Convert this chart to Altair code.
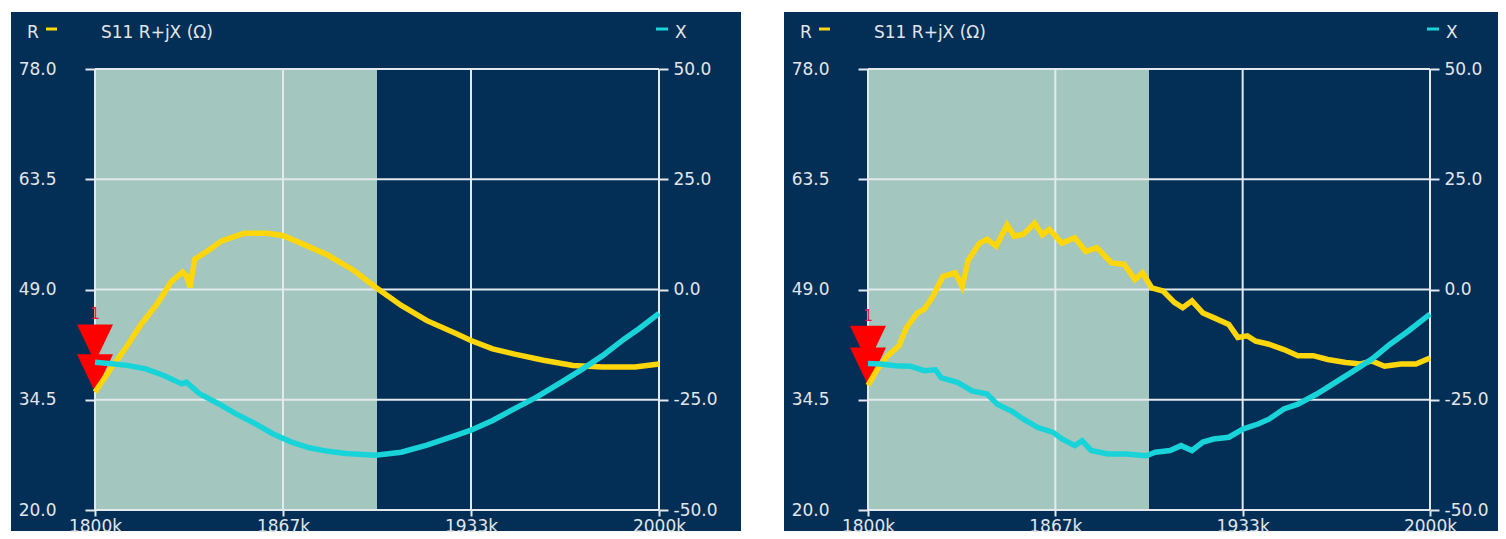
import altair as alt
import pandas as pd

# ---------------- data ----------------
FREQ_TICKS = [1800, 1866.6667, 1933.3333, 2000]
R_TICKS = [20.0, 34.5, 49.0, 63.5, 78.0]
X_TICKS = [-50.0, -25.0, 0.0, 25.0, 50.0]
SHADE_START = [1800]
SHADE_END = [1900]

# left panel (smooth sweep)
L_R_F = [1800, 1806, 1811.4, 1816.5, 1822, 1827, 1831, 1832.4, 1833.7, 1835.4, 1840, 1845, 1853,
         1861, 1866.5, 1873.6, 1882.7, 1891.8, 1899.5, 1908.6, 1917.7, 1928, 1933.3, 1941,
         1948.8, 1959, 1969.5, 1980, 1991.5, 2000]
L_R_V = [35.5, 38.8, 41.6, 44.5, 47.1, 50.0, 51.3, 50.8, 49.3, 53.0, 54.1, 55.4, 56.4,
         56.4, 56.1, 55.0, 53.5, 51.5, 49.3, 46.9, 44.9, 43.2, 42.3, 41.2,
         40.5, 39.7, 39.0, 38.8, 38.8, 39.2]
L_X_F = [1800, 1805, 1811.4, 1818, 1824.4, 1830.8, 1832.4, 1837, 1843.8, 1850, 1856.8, 1863,
         1869.7, 1876, 1882.7, 1889, 1899.5, 1908.6, 1917.7, 1928, 1933.3, 1941, 1948.8,
         1956.6, 1964.4, 1972, 1980, 1987.7, 1992.9, 2000]
L_X_V = [-16.5, -16.8, -17.2, -18.0, -19.5, -21.4, -21.0, -23.6, -25.9, -28.2, -30.4, -32.7,
         -34.6, -35.9, -36.7, -37.2, -37.6, -36.9, -35.3, -33.1, -31.9, -29.7, -27.0,
         -24.4, -21.4, -18.4, -15.0, -11.2, -8.9, -5.4]

# right panel (noisy sweep)
R_R_F = [1800, 1803.3, 1807, 1811, 1813.7, 1817.5, 1820, 1822.8, 1826.6, 1831, 1833.5, 1835.7,
         1839.7, 1842.4, 1845.6, 1849.5, 1852, 1855.4, 1859.3, 1862, 1864.5, 1869, 1873.6,
         1877.5, 1881.4, 1886.7, 1891.2, 1895, 1897.7, 1901, 1905, 1909, 1912, 1915.3,
         1919.2, 1923, 1928.4, 1931.6, 1935, 1938, 1942.7, 1948, 1953, 1958.4, 1963.6,
         1970, 1975.4, 1979.3, 1983.8, 1989.7, 1995, 2000]
R_R_V = [36.4, 38.5, 40.3, 41.6, 44.0, 45.9, 46.4, 47.9, 50.7, 51.2, 49.4, 52.9,
         55.1, 55.6, 54.7, 57.5, 56.0, 56.3, 57.7, 56.2, 56.9, 55.1, 55.8,
         54.0, 54.5, 52.5, 52.3, 50.3, 51.2, 49.2, 48.8, 47.3, 46.6, 47.5,
         45.9, 45.3, 44.4, 42.7, 42.9, 42.2, 41.8, 41.1, 40.3, 40.3, 39.8,
         39.4, 39.2, 39.6, 38.9, 39.2, 39.2, 40.0]
R_X_F = [1800, 1804.6, 1809.8, 1815, 1820, 1824, 1826, 1832, 1837, 1842.4, 1846, 1851.4,
         1855.3, 1860.5, 1865.9, 1869, 1873.6, 1876.2, 1879.4, 1885.3, 1891.8, 1899,
         1902.3, 1907.5, 1911.4, 1915.3, 1919.2, 1923, 1928.4, 1933.6, 1938.8, 1942.7,
         1948, 1953, 1959.7, 1966.2, 1972.7, 1979.3, 1985.8, 1992.3, 2000]
R_X_V = [-16.8, -16.9, -17.3, -17.4, -18.4, -18.2, -20.0, -21.1, -23.0, -23.7, -26.0, -27.7,
         -29.4, -31.3, -32.4, -33.9, -35.4, -34.3, -36.5, -37.3, -37.3, -37.7,
         -36.9, -36.5, -35.4, -36.5, -34.6, -33.9, -33.5, -31.6, -30.5, -29.4,
         -27.1, -26.0, -23.7, -21.1, -18.5, -15.8, -12.4, -9.4, -5.6]

# ---------------- style ----------------
NAVY = "#032E56"
SHADE = "#A3C6BE"
YELLOW = "#FFD60A"
CYAN = "#18D4D8"
GRID = "#E4E9EE"
TXT = "#E2E6EA"
FONT = "DejaVu Sans"
FS = 17

x_scale = alt.Scale(domain=[1800, 2000], nice=False, zero=False)
r_scale = alt.Scale(domain=[20, 78], nice=False, zero=False)
x2_scale = alt.Scale(domain=[-50, 50], nice=False, zero=False)

x_axis = alt.Axis(values=FREQ_TICKS, labelExpr="format(round(datum.value), 'd') + 'k'",
                  title=None, grid=False, domain=False, tickSize=6, tickWidth=2,
                  tickColor=GRID, labelPadding=2, labelFlush=False, zindex=1,
                  labelFont=FONT, labelFontSize=FS, labelColor=TXT)
r_axis = alt.Axis(values=R_TICKS, format=".1f", orient="left", title=None, grid=False,
                  domain=False, tickSize=10, tickWidth=2, tickColor=GRID, labelPadding=29,
                  zindex=1, labelFont=FONT, labelFontSize=FS, labelColor=TXT)
xr_axis = alt.Axis(values=X_TICKS,
                   labelExpr="(datum.value < 0 ? '-' : '') + format(abs(datum.value), '.1f')",
                   orient="right", title=None, grid=False,
                   domain=False, tickSize=9, tickWidth=2, tickColor=GRID, labelPadding=5,
                   labelAlign="left", zindex=1, labelFont=FONT, labelFontSize=FS,
                   labelColor=TXT)

TRI = "M-1,-2.1L1,-2.1L0,0Z"


def panel(rf, rv, xf, xv, width, bg_right):
    one = pd.DataFrame({"a": [0]})
    r_df = pd.DataFrame({"f": rf, "v": rv})
    x_df = pd.DataFrame({"f": xf, "v": xv})
    shade_df = pd.DataFrame({"s": SHADE_START, "e": SHADE_END})
    vgrid = pd.DataFrame({"f": FREQ_TICKS})
    hgrid = pd.DataFrame({"v": R_TICKS})
    r_mark = pd.DataFrame({"f": [rf[0]], "v": [rv[0]]})
    x_mark = pd.DataFrame({"f": [xf[0]], "v": [xv[0]], "t": ["1"]})

    bg = alt.Chart(one).mark_rect(color=NAVY).encode(
        x=alt.value(-84), x2=alt.value(width + bg_right),
        y=alt.value(-57), y2=alt.value(462))
    shade = alt.Chart(shade_df).mark_rect(color=SHADE).encode(
        x=alt.X("s:Q", scale=x_scale, axis=x_axis), x2="e:Q")
    vg = alt.Chart(vgrid).mark_rule(color=GRID, strokeWidth=2).encode(
        x=alt.X("f:Q", scale=x_scale, axis=x_axis))
    hg = alt.Chart(hgrid).mark_rule(color=GRID, strokeWidth=2).encode(
        y=alt.Y("v:Q", scale=r_scale, axis=r_axis))
    rmk = alt.Chart(r_mark).mark_point(shape=TRI, size=1296, filled=True, color="#FF0000",
                                       opacity=1).encode(
        x=alt.X("f:Q", scale=x_scale, axis=x_axis),
        y=alt.Y("v:Q", scale=r_scale, axis=r_axis))
    rline = alt.Chart(r_df).mark_line(color=YELLOW, strokeWidth=5.5).encode(
        x=alt.X("f:Q", scale=x_scale, axis=x_axis),
        y=alt.Y("v:Q", scale=r_scale, axis=r_axis))
    title = alt.Chart(one).mark_text(text="S11 R+jX (Ω)", align="left", baseline="middle",
                                     font=FONT, fontSize=FS, color=TXT).encode(
        x=alt.value(6), y=alt.value(-36))
    rlab = alt.Chart(one).mark_text(text="R", align="left", baseline="middle",
                                    font=FONT, fontSize=FS, color=TXT).encode(
        x=alt.value(-68), y=alt.value(-36))
    rdash = alt.Chart(one).mark_rule(color=YELLOW, strokeWidth=3).encode(
        x=alt.value(-49), x2=alt.value(-38), y=alt.value(-40))

    r_layer = alt.layer(bg, shade, vg, hg, rmk, rline, title, rlab, rdash)

    xmk = alt.Chart(x_mark).mark_point(shape=TRI, size=1296, filled=True, color="#FF0000",
                                       opacity=1).encode(
        x=alt.X("f:Q", scale=x_scale, axis=x_axis),
        y=alt.Y("v:Q", scale=x2_scale, axis=xr_axis))
    xnum = alt.Chart(x_mark).mark_text(font=FONT, fontSize=16, color="#E8184C",
                                       baseline="middle", dy=-48).encode(
        x=alt.X("f:Q", scale=x_scale, axis=x_axis),
        y=alt.Y("v:Q", scale=x2_scale, axis=xr_axis), text="t:N")
    xline = alt.Chart(x_df).mark_line(color=CYAN, strokeWidth=5.5).encode(
        x=alt.X("f:Q", scale=x_scale, axis=x_axis),
        y=alt.Y("v:Q", scale=x2_scale, axis=xr_axis))
    xlab = alt.Chart(one).mark_text(text="X", align="left", baseline="middle",
                                    font=FONT, fontSize=FS, color=TXT).encode(
        x=alt.value(width + 16), y=alt.value(-36))
    xdash = alt.Chart(one).mark_rule(color=CYAN, strokeWidth=3).encode(
        x=alt.value(width - 3), x2=alt.value(width + 9), y=alt.value(-40))

    x_layer = alt.layer(xmk, xnum, xline, xlab, xdash)

    return alt.layer(r_layer, x_layer).resolve_scale(y="independent").properties(
        width=width, height=441)


left = panel(L_R_F, L_R_V, L_X_F, L_X_V, 564, 82)
right = panel(R_R_F, R_R_V, R_X_F, R_X_V, 562, 68)

chart = alt.hconcat(left, right, spacing=43).properties(
    padding={"left": 3, "top": 4, "right": 0, "bottom": 0}
).configure_view(stroke=None)

chart.save("out.html", embed_options={"renderer": "svg", "actions": False})
